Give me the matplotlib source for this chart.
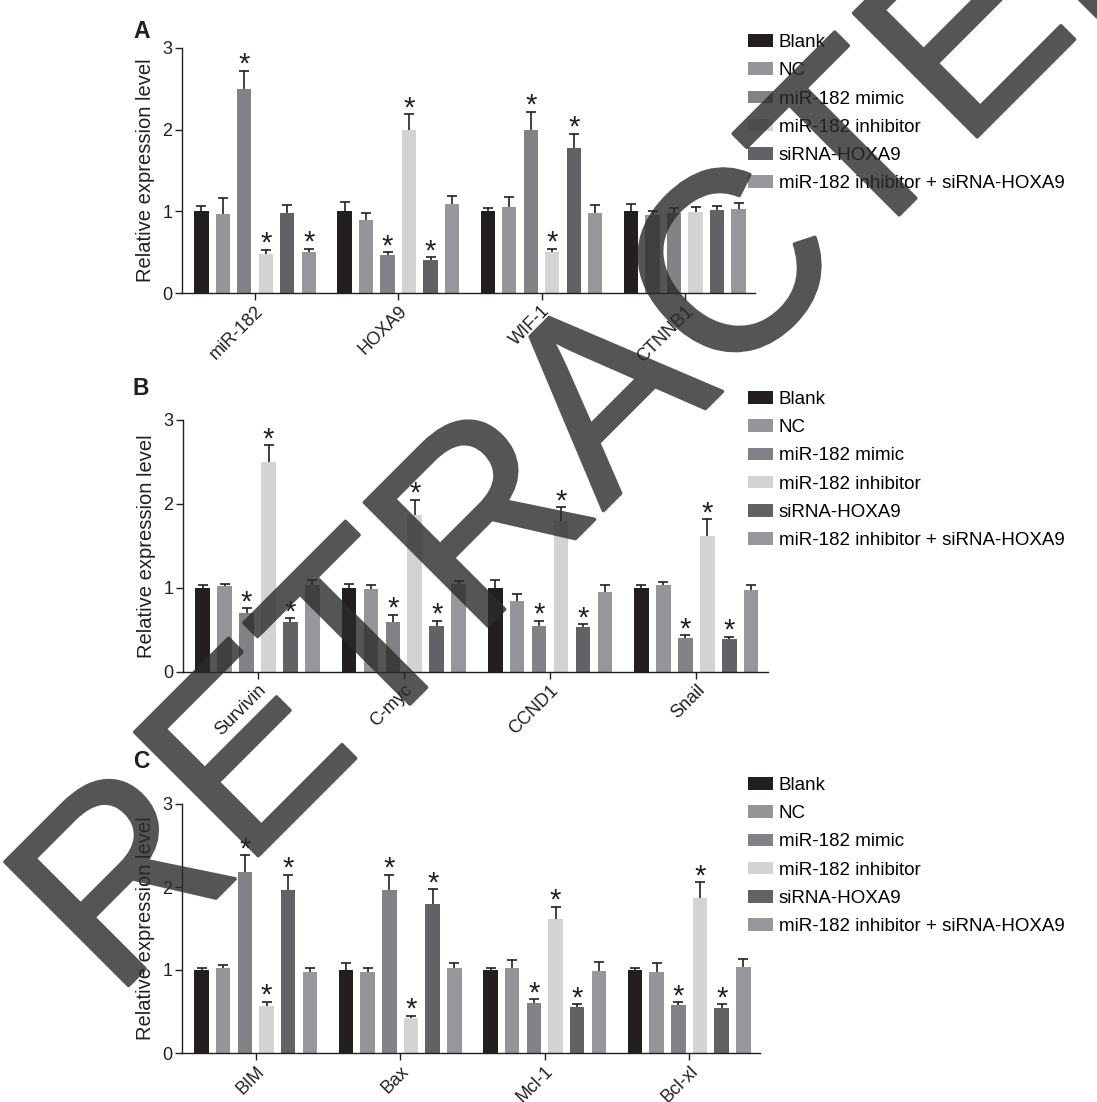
import numpy as np
import matplotlib.pyplot as plt
import matplotlib.patheffects as pe

plt.rcParams['font.family'] = ['Liberation Sans', 'DejaVu Sans']

W, H = 1097, 1102

groups = ['Blank', 'NC', 'miR-182 mimic', 'miR-182 inhibitor',
          'siRNA-HOXA9', 'miR-182 inhibitor + siRNA-HOXA9']
colors = ['#231f20', '#939598', '#808285', '#d1d3d4', '#616266', '#95979b']

# Panel A: Wnt pathway genes
genes_a = ['miR-182', 'HOXA9', 'WIF-1', 'CTNNB1']
mean_a = np.array([[1.00, 0.97, 2.50, 0.48, 0.98, 0.50],
                   [1.00, 0.90, 0.46, 2.00, 0.40, 1.09],
                   [1.00, 1.05, 2.00, 0.50, 1.78, 0.98],
                   [1.00, 0.95, 0.98, 0.99, 1.02, 1.03]])
sem_a = np.array([[0.06, 0.19, 0.22, 0.05, 0.10, 0.04],
                  [0.11, 0.08, 0.04, 0.19, 0.04, 0.10],
                  [0.04, 0.13, 0.22, 0.04, 0.17, 0.10],
                  [0.09, 0.06, 0.06, 0.06, 0.05, 0.07]])
star_a = np.array([[0, 0, 1, 1, 0, 1],
                   [0, 0, 1, 1, 1, 0],
                   [0, 0, 1, 1, 1, 0],
                   [0, 0, 0, 0, 0, 0]])

# Panel B: proliferation / EMT genes
genes_b = ['Survivin', 'C-myc', 'CCND1', 'Snail']
mean_b = np.array([[1.00, 1.02, 0.70, 2.50, 0.59, 1.04],
                   [1.00, 0.99, 0.60, 1.87, 0.55, 1.05],
                   [1.00, 0.85, 0.55, 1.80, 0.53, 0.95],
                   [1.00, 1.03, 0.40, 1.62, 0.39, 0.98]])
sem_b = np.array([[0.03, 0.03, 0.06, 0.20, 0.05, 0.05],
                  [0.05, 0.05, 0.08, 0.18, 0.06, 0.03],
                  [0.09, 0.08, 0.06, 0.16, 0.04, 0.09],
                  [0.04, 0.04, 0.04, 0.20, 0.03, 0.06]])
star_b = np.array([[0, 0, 1, 1, 1, 0]] * 4)

# Panel C: apoptosis genes
genes_c = ['BIM', 'Bax', 'Mcl-1', 'Bcl-xl']
mean_c = np.array([[1.00, 1.02, 2.18, 0.57, 1.96, 0.98],
                   [1.00, 0.97, 1.96, 0.42, 1.80, 1.02],
                   [1.00, 1.02, 0.60, 1.61, 0.55, 0.99],
                   [1.00, 0.98, 0.58, 1.87, 0.54, 1.04]])
sem_c = np.array([[0.02, 0.04, 0.20, 0.05, 0.19, 0.04],
                  [0.08, 0.05, 0.19, 0.03, 0.17, 0.07],
                  [0.02, 0.10, 0.05, 0.15, 0.04, 0.11],
                  [0.02, 0.10, 0.03, 0.19, 0.05, 0.09]])
star_c = np.array([[0, 0, 1, 1, 1, 0]] * 4)

fig = plt.figure(figsize=(W / 100, H / 100), dpi=100)
ink = '#231f20'


def add_panel(letter, genes, mean, sem, stars, box, letter_y, legend_top):
    left, right, y0, y3 = box
    ax = fig.add_axes([left / W, 1 - y0 / H, (right - left) / W, (y0 - y3) / H])
    offsets = (np.arange(6) - 2.5) * 0.15
    xg = np.arange(len(genes))
    for i in range(6):
        x = xg + offsets[i]
        # symmetric error bars drawn behind the bars, so only the upper half shows
        ax.errorbar(x, mean[:, i], yerr=sem[:, i], fmt='none', ecolor=ink,
                    elinewidth=1.2, capsize=3.5, capthick=1.2, zorder=1)
        ax.bar(x, mean[:, i], width=0.1, color=colors[i], label=groups[i], zorder=2)
        for j in range(len(genes)):
            if stars[j, i]:
                ax.annotate('*', (x[j], mean[j, i] + sem[j, i]), xytext=(0, -1.5),
                            textcoords='offset points', ha='center', va='baseline',
                            fontsize=21, color=ink, annotation_clip=False)
    ax.set_xlim(-0.51, 3.49)
    ax.set_ylim(0, 3)
    ax.set_yticks([0, 1, 2, 3])
    ax.set_xticks(xg)
    ax.set_xticklabels(genes, rotation=45, ha='right', va='top', rotation_mode='anchor')
    ax.tick_params(axis='both', direction='out', length=5, width=1, labelsize=13,
                   pad=2, color=ink, labelcolor=ink)
    for s in ['top', 'right']:
        ax.spines[s].set_visible(False)
    for s in ['left', 'bottom']:
        ax.spines[s].set_linewidth(1)
        ax.spines[s].set_color(ink)
    ax.set_ylabel('Relative expression level', fontsize=14.5, color=ink)
    ax.yaxis.set_label_coords(-0.047, 0.5)
    ax.legend(loc='upper left', bbox_to_anchor=(748 / W, 1 - legend_top / H),
              bbox_transform=fig.transFigure, frameon=False, borderpad=0,
              borderaxespad=0, fontsize=13.5, handlelength=1.33, handleheight=0.64,
              handletextpad=0.32, labelspacing=0.6)
    fig.text(133 / W, 1 - letter_y / H, letter, fontsize=16.5, fontweight='bold',
             ha='left', va='baseline', color=ink)
    return ax


add_panel('A', genes_a, mean_a, sem_a, star_a, (182, 755, 293, 48), 38, 34)
add_panel('B', genes_b, mean_b, sem_b, star_b, (183, 768, 672, 420), 395, 391)
add_panel('C', genes_c, mean_c, sem_c, star_c, (182, 760, 1053, 804), 768, 777)


def fade(im, dpi):
    im = im.copy()
    im[..., 3] *= 0.8
    return im, 0, 0


wm = fig.text(663 / W, 1 - 451 / H, 'RETRACTED', rotation=45, rotation_mode='anchor',
              ha='center', va='baseline', fontsize=183, color='#2b2b2b', zorder=10,
              path_effects=[pe.Stroke(linewidth=2.5, foreground='#2b2b2b'), pe.Normal()])
wm.set_agg_filter(fade)

fig.savefig('out.png', dpi=100)
